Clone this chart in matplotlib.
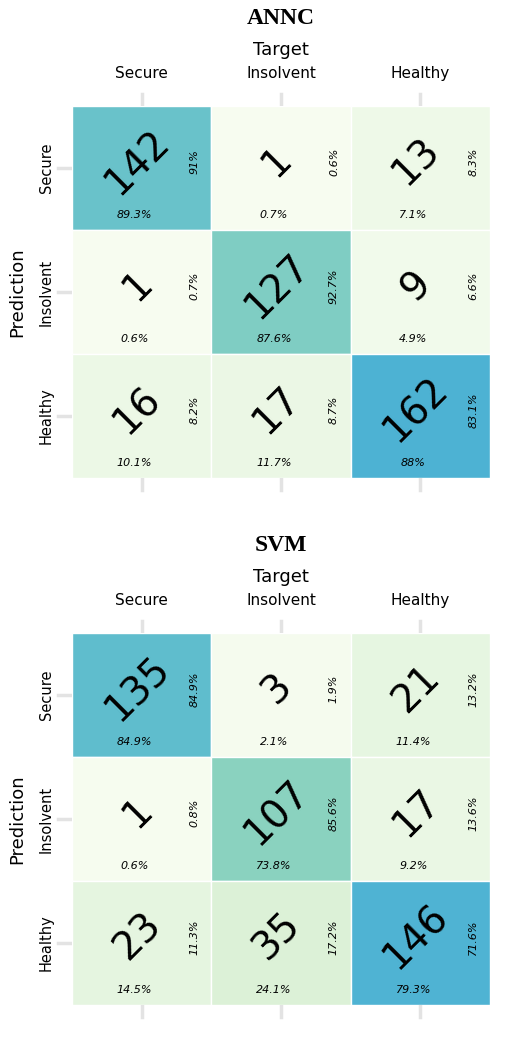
import matplotlib
matplotlib.use("Agg")
import matplotlib.pyplot as plt
import numpy as np
from matplotlib.colors import Normalize

labels = ["Secure", "Insolvent", "Healthy"]
annc = np.array([[142, 1, 13], [1, 127, 9], [16, 17, 162]])
svm = np.array([[135, 3, 21], [1, 107, 17], [23, 35, 146]])
titles = ["ANNC", "SVM"]

W, H = 520, 1043
fig = plt.figure(figsize=(W/100, H/100), dpi=100)
cmap = plt.get_cmap("GnBu")

def fmt(p):
    s = f"{p:.1f}"
    if s.endswith(".0"):
        s = s[:-2]
    return s + "%"

def panel(mat, title, top, bottom):
    norm = Normalize(0, mat.max() * 1.6)
    ax = fig.add_axes([72/W, 1-bottom/H, 418/W, (bottom-top)/H])
    ax.set_xlim(0, 3); ax.set_ylim(3, 0)
    ax.axis("off")
    for t in range(3):
        c = t + 0.5
        ax.plot([c, c], [-0.1, 0], color="#e3e3e3", lw=2.5, clip_on=False, zorder=0)
        ax.plot([c, c], [3, 3.1], color="#e3e3e3", lw=2.5, clip_on=False, zorder=0)
        ax.plot([-0.1, 0], [c, c], color="#e3e3e3", lw=2.5, clip_on=False, zorder=0)
        ax.text(c, -0.2, labels[t], ha="center", va="bottom", fontsize=11)
        ax.text(-0.13, c, labels[t], ha="right", va="center", rotation=90, fontsize=10.5)
    rows = mat.sum(axis=1); cols = mat.sum(axis=0)
    for i in range(3):
        for j in range(3):
            v = mat[i, j]
            ax.add_patch(plt.Rectangle((j, i), 1, 1, facecolor=cmap(norm(v)),
                                       edgecolor="white", lw=1))
            ax.text(j+0.47, i+0.45, str(v), ha="center", va="center", rotation=45, fontsize=28)
            ax.text(j+0.88, i+0.45, fmt(100*v/rows[i]), ha="center", va="center",
                    rotation=90, fontsize=8, style="italic")
            ax.text(j+0.45, i+0.88, fmt(100*v/cols[j]), ha="center", va="center",
                    fontsize=8, style="italic")
    ax.text(1.5, -0.38, "Target", ha="center", va="bottom", fontsize=13)
    ax.text(-0.33, 1.5, "Prediction", ha="right", va="center", rotation=90, fontsize=13)
    ax.text(1.5, -0.62, title, ha="center", va="bottom", fontsize=17,
            fontweight="bold", family="Liberation Serif")

panel(annc, titles[0], 106, 478)
panel(svm, titles[1], 633, 1005)
fig.savefig("out.png", dpi=100)
